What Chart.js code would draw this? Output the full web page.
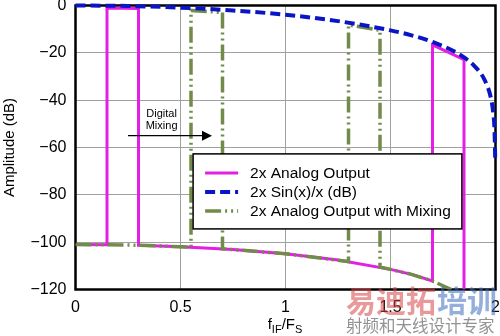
<!DOCTYPE html>
<html lang="en">
  <head>
    <meta charset="UTF-8" />
    <title>2x Analog Output</title>
    <script src="https://cdn.jsdelivr.net/npm/chart.js"></script>
    <style>
      body { margin: 0; background: #fff; }
      #wrap { width: 500px; height: 336px; }
    </style>
  </head>
  <body>
    <div id="wrap"><canvas id="chart" width="500" height="336"></canvas></div>
    <script>
      // tick values
      var xTicks = [0, 0.5, 1, 1.5, 2];
      var yTicks = [-120, -100, -80, -60, -40, -20, 0];

      // 2x Analog Output (magenta)
      var analogX = [0, 0.15, 0.15, 0.30, 0.30, 0.50, 0.75, 1.00, 1.25, 1.50, 1.60, 1.70, 1.70, 1.85, 1.85];
      var analogY = [-101, -101.1, -1.1, -1.3, -101.3, -101.9, -103.1, -104.9, -107.5, -111.5, -113.6, -116.4, -16.6, -22.9, -120];

      // 2x Sin(x)/x (dB) (blue dashed)
      var sincX = [0, 0.25, 0.5, 0.75, 1.0, 1.25, 1.5, 1.6, 1.7, 1.8, 1.85, 1.9, 1.95, 1.98, 1.99, 1.995, 1.999];
      var sincY = [0, -0.2, -0.9, -2.1, -3.9, -6.6, -10.5, -12.6, -15.4, -19.2, -21.9, -25.6, -31.8, -39.9, -46, -52, -66];

      // 2x Analog Output with Mixing (olive, dash-dot-dot)
      var mixX = [0, 0.25, 0.50, 0.55, 0.55, 0.70, 0.70, 1.00, 1.30, 1.30, 1.45, 1.45, 1.50, 1.60, 1.70, 1.79];
      var mixY = [-101, -101.2, -101.9, -102.1, -2.1, -2.9, -102.8, -104.9, -108.2, -8.2, -10.5, -110.5, -111.5, -113.6, -116.4, -120];

      function pts(xs, ys) {
        return xs.map(function (x, i) { return { x: x, y: ys[i] }; });
      }

      var FONT = "'Liberation Sans', Arial, sans-serif";

      var overlay = {
        id: "overlay",
        beforeDatasetsDraw: function (chart) {
          var a = chart.chartArea, ctx = chart.ctx;
          ctx.save();
          ctx.strokeStyle = "#000";
          ctx.lineWidth = 2.5;
          ctx.strokeRect(a.left, a.top, a.right - a.left, a.bottom - a.top);
          ctx.restore();
        },
        afterDatasetsDraw: function (chart) {
          var ctx = chart.ctx, sx = chart.scales.x, sy = chart.scales.y;
          ctx.save();
          // Digital Mixing note + arrow
          ctx.fillStyle = "#000";
          ctx.font = "11px " + FONT;
          ctx.textAlign = "center";
          ctx.textBaseline = "middle";
          ctx.fillText("Digital", sx.getPixelForValue(0.41), sy.getPixelForValue(-46));
          ctx.fillText("Mixing", sx.getPixelForValue(0.41), sy.getPixelForValue(-51));
          var ax0 = sx.getPixelForValue(0.25), ax1 = sx.getPixelForValue(0.65), ay = sy.getPixelForValue(-55);
          ctx.strokeStyle = "#000";
          ctx.lineWidth = 1.2;
          ctx.beginPath();
          ctx.moveTo(ax0, ay);
          ctx.lineTo(ax1 - 8, ay);
          ctx.stroke();
          ctx.beginPath();
          ctx.moveTo(ax1, ay);
          ctx.lineTo(ax1 - 10, ay - 5);
          ctx.lineTo(ax1 - 10, ay + 5);
          ctx.closePath();
          ctx.fill();

          // legend box
          var lx = sx.getPixelForValue(0.56), lr = sx.getPixelForValue(1.84);
          var ly = sy.getPixelForValue(-62.7), lb = sy.getPixelForValue(-94.4);
          ctx.fillStyle = "#fff";
          ctx.fillRect(lx, ly, lr - lx, lb - ly);
          ctx.lineWidth = 1.5;
          ctx.strokeRect(lx, ly, lr - lx, lb - ly);
          var order = [0, 1, 2];
          ctx.textAlign = "left";
          ctx.font = "15.5px " + FONT;
          order.forEach(function (di, row) {
            var ds = chart.data.datasets[di];
            var yy = ly + 19 + row * 19;
            ctx.save();
            ctx.strokeStyle = ds.borderColor;
            ctx.lineWidth = ds.borderWidth;
            ctx.setLineDash(ds.borderDash || []);
            ctx.beginPath();
            ctx.moveTo(lx + 12, yy);
            ctx.lineTo(lx + 45, yy);
            ctx.stroke();
            ctx.restore();
            ctx.fillStyle = "#000";
            ctx.fillText(ds.label, lx + 57, yy + 1);
          });
          ctx.restore();
        },
        afterDraw: function (chart) {
          var ctx = chart.ctx, a = chart.chartArea;
          ctx.save();
          ctx.fillStyle = "#000";
          // y title
          ctx.translate(10, (a.top + a.bottom) / 2);
          ctx.rotate(-Math.PI / 2);
          ctx.font = "15px " + FONT;
          ctx.textAlign = "center";
          ctx.textBaseline = "middle";
          ctx.fillText("Amplitude (dB)", 0, 0);
          ctx.restore();

          // x title f_IF / F_S
          ctx.save();
          ctx.fillStyle = "#000";
          ctx.textBaseline = "alphabetic";
          ctx.textAlign = "left";
          var parts = [["f", 15, 0], ["IF", 11, 4], ["/F", 15, 0], ["S", 11, 4]];
          var w = 0;
          parts.forEach(function (p) { ctx.font = p[1] + "px " + FONT; w += ctx.measureText(p[0]).width; });
          var x = 285 - w / 2, base = 329;
          parts.forEach(function (p) {
            ctx.font = p[1] + "px " + FONT;
            ctx.fillText(p[0], x, base + p[2]);
            x += ctx.measureText(p[0]).width;
          });
          ctx.restore();

          // site watermark
          ctx.save();
          ctx.textBaseline = "alphabetic";
          ctx.textAlign = "left";
          ctx.font = "bold 30px 'Noto Sans CJK SC'";
          ctx.fillStyle = "rgba(215, 70, 70, 0.55)";
          ctx.fillText("易迪拓", 346, 312);
          ctx.fillStyle = "rgba(60, 110, 190, 0.55)";
          ctx.fillText("培训", 437, 312);
          ctx.font = "16.5px 'Noto Sans CJK SC'";
          ctx.fillStyle = "rgba(110, 110, 110, 0.75)";
          ctx.fillText("射频和天线设计专家", 346, 332);
          ctx.restore();
        }
      };

      new Chart(document.getElementById("chart"), {
        type: "line",
        data: {
          datasets: [
            {
              label: "2x Analog Output",
              data: pts(analogX, analogY),
              borderColor: "#e41ee4",
              borderWidth: 3,
              pointRadius: 0,
              order: 2
            },
            {
              label: "2x Sin(x)/x (dB)",
              data: pts(sincX, sincY),
              borderColor: "#0a16c4",
              borderWidth: 4,
              borderDash: [10, 5],
              cubicInterpolationMode: "monotone",
              pointRadius: 0,
              clip: false,
              order: 0
            },
            {
              label: "2x Analog Output with Mixing",
              data: pts(mixX, mixY),
              borderColor: "#728a4a",
              borderWidth: 3.5,
              borderDash: [16, 4, 2, 4, 2, 4],
              pointRadius: 0,
              order: 1
            }
          ]
        },
        options: {
          responsive: false,
          animation: false,
          events: [],
          layout: { padding: { top: 5.5, right: 4.5, left: 0, bottom: 0 } },
          plugins: { legend: { display: false }, tooltip: { enabled: false } },
          scales: {
            x: {
              type: "linear",
              min: xTicks[0],
              max: xTicks[xTicks.length - 1],
              afterBuildTicks: function (s) { s.ticks = xTicks.map(function (v) { return { value: v }; }); },
              afterFit: function (s) { s.height = 46.5; s.paddingLeft = 0; s.paddingRight = 0; },
              grid: { color: "#a0a0a0", lineWidth: 1, drawTicks: false },
              border: { display: false },
              ticks: {
                padding: 8,
                color: "#000",
                font: { family: FONT, size: 16 },
                callback: function (v) { return String(v); }
              }
            },
            y: {
              min: yTicks[0],
              max: yTicks[yTicks.length - 1],
              afterBuildTicks: function (s) { s.ticks = yTicks.map(function (v) { return { value: v }; }); },
              afterFit: function (s) { s.width = 75.5; s.paddingTop = 0; s.paddingBottom = 0; },
              grid: { color: "#a0a0a0", lineWidth: 1, drawTicks: false },
              border: { display: false },
              ticks: {
                padding: 9,
                color: "#000",
                font: { family: FONT, size: 16 },
                callback: function (v) { return String(v).replace("-", "\u2212"); }
              }
            }
          }
        },
        plugins: [overlay]
      });
    </script>
  </body>
</html>
